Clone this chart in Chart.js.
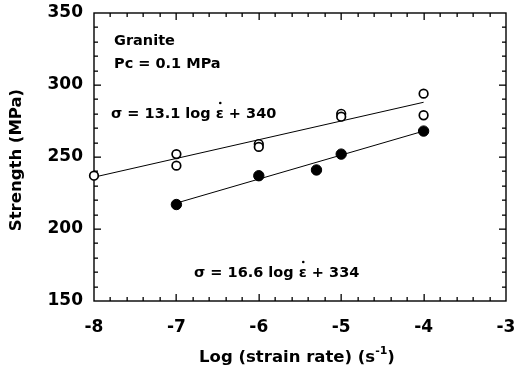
<!DOCTYPE html>
<html>
<head>
<meta charset="utf-8">
<script src="https://cdn.jsdelivr.net/npm/chart.js@4"></script>
<style>
  html, body { margin: 0; padding: 0; background: #fff; }
  canvas { display: block; }
</style>
</head>
<body>
<canvas id="chart" width="515" height="373"></canvas>
<script>
// open circles
const openX = [-8, -7, -7, -6, -6, -5, -5, -4, -4];
const openY = [237, 252, 244, 259, 257, 280, 278, 294, 279];
// filled circles
const solidX = [-7, -6, -5.3, -5, -4];
const solidY = [217, 237, 241, 252, 268];
// fitted lines (end points)
const fitOpenX = [-8, -4];
const fitOpenY = [236, 288];
const fitSolidX = [-7, -4];
const fitSolidY = [218, 268];
// axes
const xRange = [-8, -3];
const yRange = [150, 350];

const FONT = "'DejaVu Sans', sans-serif";
const pts = (xs, ys) => xs.map((x, i) => ({ x: x, y: ys[i] }));

// inward tick marks on all four sides, major + minor
function drawTicks(chart) {
  const ctx = chart.ctx;
  const a = chart.chartArea;
  const sx = chart.scales.x;
  const sy = chart.scales.y;
  ctx.save();
  ctx.fillStyle = "#000";
  for (let i = 1; i < 25; i++) {
    const px = Math.round(sx.getPixelForValue(xRange[0] + i * 0.2)) - 0.5;
    const len = i % 5 === 0 ? 7 : 4;
    ctx.fillRect(px, a.bottom - len, 1.3, len);
    ctx.fillRect(px, a.top, 1.3, len);
  }
  for (let i = 1; i < 20; i++) {
    const py = Math.round(sy.getPixelForValue(yRange[0] + i * 10)) - 0.5;
    const len = i % 5 === 0 ? 7 : 4;
    ctx.fillRect(a.left, py, len, 1.3);
    ctx.fillRect(a.right - len, py, len, 1.3);
  }
  ctx.restore();
}

const frame = {
  id: "frame",
  beforeDatasetsDraw(chart) {
    const { ctx, chartArea: a } = chart;
    ctx.save();
    ctx.strokeStyle = "#000";
    ctx.lineWidth = 1.4;
    ctx.strokeRect(a.left, a.top, a.right - a.left, a.bottom - a.top);
    ctx.restore();
    drawTicks(chart);
  },
  afterDraw(chart) {
    const { ctx, chartArea: a } = chart;
    ctx.save();
    ctx.fillStyle = "#000";
    ctx.textBaseline = "alphabetic";

    // notes
    ctx.font = "bold 14.5px " + FONT;
    ctx.fillText("Granite", 114, 45);
    ctx.fillText("Pc = 0.1 MPa", 114, 68);

    // equations, dot over epsilon drawn by hand
    const eq = (pre, post, px, py) => {
      ctx.fillText(pre + "ε" + post, px, py);
      const w0 = ctx.measureText(pre).width;
      const we = ctx.measureText("ε").width;
      ctx.beginPath();
      ctx.arc(px + w0 + we / 2 + 0.5, py - 15, 1.3, 0, Math.PI * 2);
      ctx.fill();
    };
    eq("σ = 13.1 log ", " + 340", 111, 118);
    eq("σ = 16.6 log ", " + 334", 194, 277);

    // x title with superscript
    ctx.font = "bold 16.5px " + FONT;
    const t1 = "Log (strain rate) (s";
    const w1 = ctx.measureText(t1).width;
    ctx.font = "bold 11px " + FONT;
    const w2 = ctx.measureText("-1").width;
    ctx.font = "bold 16.5px " + FONT;
    const w3 = ctx.measureText(")").width;
    const sx = (a.left + a.right) / 2 - 3 - (w1 + w2 + w3) / 2;
    ctx.fillText(t1, sx, 362);
    ctx.font = "bold 11px " + FONT;
    ctx.fillText("-1", sx + w1, 354);
    ctx.font = "bold 16.5px " + FONT;
    ctx.fillText(")", sx + w1 + w2, 362);

    // y title
    ctx.translate(21, (a.top + a.bottom) / 2 + 3);
    ctx.rotate(-Math.PI / 2);
    ctx.textAlign = "center";
    ctx.fillText("Strength (MPa)", 0, 0);
    ctx.restore();
  }
};

new Chart(document.getElementById("chart"), {
  type: "scatter",
  data: {
    datasets: [
      {
        label: "open",
        data: pts(openX, openY),
        pointRadius: 4.3,
        pointBorderWidth: 1.7,
        pointBackgroundColor: "#fff",
        pointBorderColor: "#000",
        clip: false
      },
      {
        label: "solid",
        data: pts(solidX, solidY),
        pointRadius: 5.2,
        pointBorderWidth: 1,
        pointBackgroundColor: "#000",
        pointBorderColor: "#000",
        clip: false
      },
      {
        label: "fit open",
        data: pts(fitOpenX, fitOpenY),
        showLine: true,
        pointRadius: 0,
        borderColor: "#000",
        borderWidth: 1
      },
      {
        label: "fit solid",
        data: pts(fitSolidX, fitSolidY),
        showLine: true,
        pointRadius: 0,
        borderColor: "#000",
        borderWidth: 1
      }
    ]
  },
  options: {
    responsive: false,
    animation: false,
    devicePixelRatio: 1,
    layout: { padding: { left: 0, right: 9, top: 13, bottom: 0 } },
    plugins: {
      legend: { display: false },
      tooltip: { enabled: false }
    },
    scales: {
      x: {
        type: "linear",
        min: xRange[0],
        max: xRange[1],
        grid: { display: false, drawTicks: false },
        border: { display: false },
        ticks: {
          stepSize: 1,
          padding: 16,
          color: "#000",
          font: { family: FONT, size: 17, weight: "bold" }
        },
        afterFit: s => {
          s.height = 72;
          s.paddingLeft = 0; s.paddingRight = 0;
        }
      },
      y: {
        type: "linear",
        min: yRange[0],
        max: yRange[1],
        grid: { display: false, drawTicks: false },
        border: { display: false },
        ticks: {
          stepSize: 50,
          padding: 11,
          color: "#000",
          font: { family: FONT, size: 17, weight: "bold" }
        },
        afterFit: s => {
          s.width = 94;
          s.paddingTop = 0; s.paddingBottom = 0;
        }
      }
    }
  },
  plugins: [frame]
});
</script>
</body>
</html>
